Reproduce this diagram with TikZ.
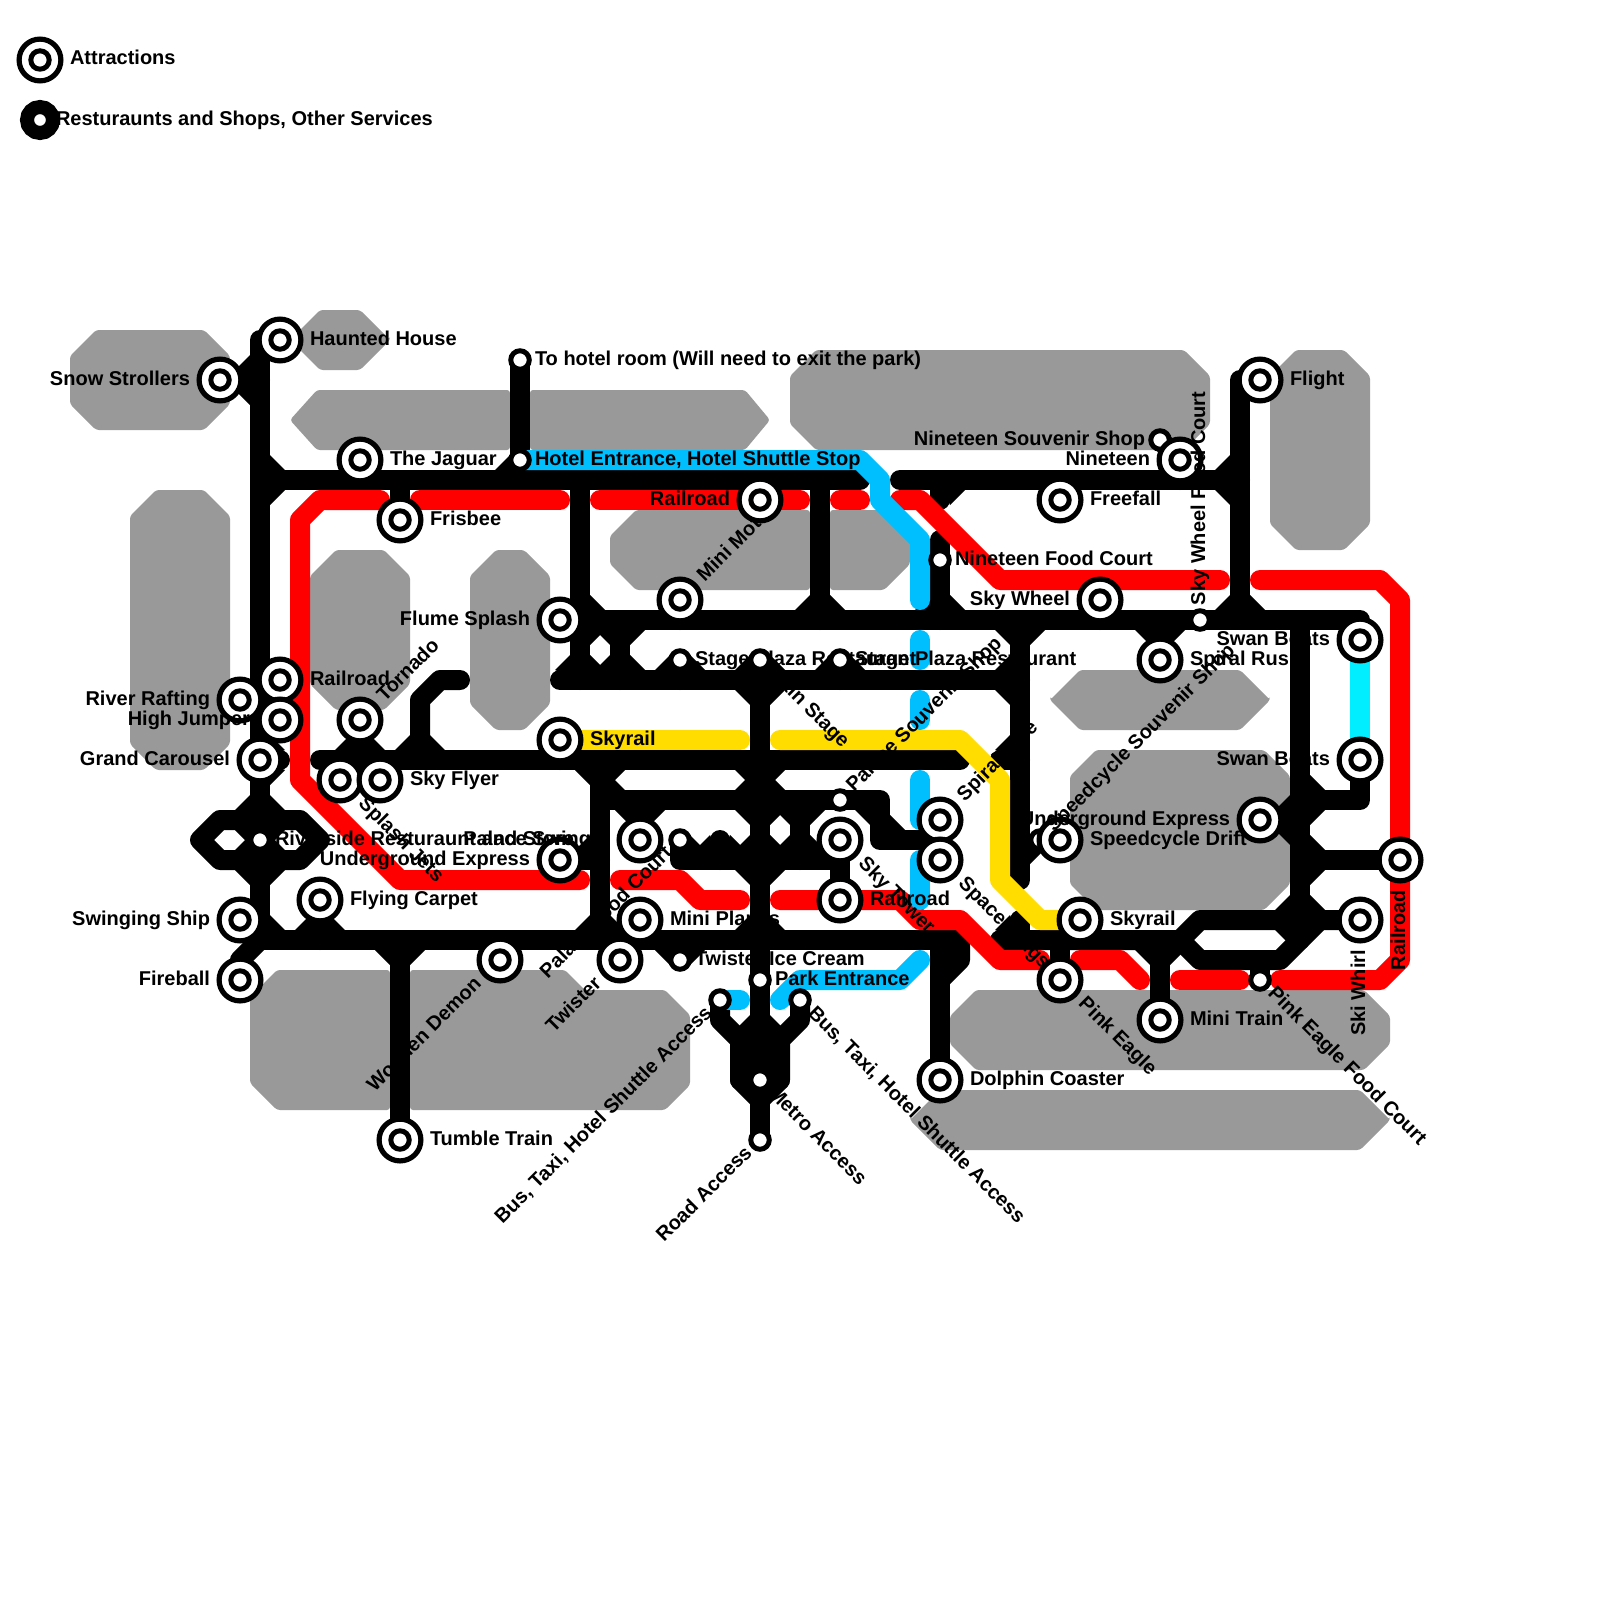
\documentclass[tikz,border=0pt]{standalone}
\usepackage{fontspec}
\setmainfont{Liberation Sans}
\pgfdeclarelayer{blocks}
\pgfdeclarelayer{lines}
\pgfdeclarelayer{colours}
\pgfdeclarelayer{tags}
\pgfsetlayers{blocks,lines,colours,tags,main}
\definecolor{mapgrey}{HTML}{999999}
\definecolor{mapred}{HTML}{FF0000}
\definecolor{mapyellow}{HTML}{FFDD00}
\definecolor{mapblue}{HTML}{00BFFF}
\definecolor{mapcyan}{HTML}{00EEFF}

\begin{document}
\begin{tikzpicture}[
    x=20pt,y=-20pt,
    map ride/.style={circle,draw=black,fill=white,line width=5.2pt,inner sep=0pt,outer sep=0pt,minimum size=41.8pt,
      path picture={\draw[line width=5pt] (path picture bounding box.center) circle (9.2pt);}},
    map stop/.style={circle,draw=black,fill=white,line width=5pt,inner sep=0pt,outer sep=0pt,minimum size=18.5pt},
    map big stop/.style={circle,draw=black,fill=white,line width=14pt,inner sep=0pt,outer sep=0pt,minimum size=26pt},
    map line/.style={line width=20pt,line cap=round,line join=round},
    map tag/.style={font=\fontsize{20}{20}\selectfont\bfseries,inner sep=0pt,outer sep=0pt},
    tag after/.style 2 args={map tag,rotate=#1,anchor=base west,shift={(#2,-5pt)}},
    tag before/.style 2 args={map tag,rotate=#1,anchor=base east,shift={(-#2,-5pt)}}
  ]
    \useasboundingbox (0,0) rectangle (80,80);

    % legend
    \node[map ride] (legendride) at (2,3) {};
    \node[map big stop] (legendstop) at (2,6) {};

    % stops that the rides lie over
    \node[map stop] (speedcyclesouvenir) at (52,42) {};
    \node[map stop] (nineteensouvenir) at (58,22) {};

    % attractions
    \node[map ride] (hauntedhouse) at (14,17) {};
    \node[map ride] (snowstrollers) at (11,19) {};
    \node[map ride] (jaguar) at (18,23) {};
    \node[map ride] (frisbee) at (20,26) {};
    \node[map ride] (railroadw) at (14,34) {};
    \node[map ride] (riverrafting) at (12,35) {};
    \node[map ride] (highjumper) at (14,36) {};
    \node[map ride] (grandcarousel) at (13,38) {};
    \node[map ride] (tornado) at (18,36) {};
    \node[map ride] (flumesplash) at (28,31) {};
    \node[map ride] (skyrailw) at (28,37) {};
    \node[map ride] (splashjets) at (17,39) {};
    \node[map ride] (skyflyer) at (19,39) {};
    \node[map ride] (undergroundw) at (28,43) {};
    \node[map ride] (palaceswinger) at (32,42) {};
    \node[map ride] (flyingcarpet) at (16,45) {};
    \node[map ride] (swingingship) at (12,46) {};
    \node[map ride] (fireball) at (12,49) {};
    \node[map ride] (tumbletrain) at (20,57) {};
    \node[map ride] (woodendemon) at (25,48) {};
    \node[map ride] (twister) at (31,48) {};
    \node[map ride] (miniplanes) at (32,46) {};
    \node[map ride] (railroadn) at (38,25) {};
    \node[map ride] (minimoto) at (34,30) {};
    \node[map ride] (skytower) at (42,42) {};
    \node[map ride] (railroads) at (42,45) {};
    \node[map ride] (spiralride) at (47,41) {};
    \node[map ride] (spacerings) at (47,43) {};
    \node[map ride] (dolphin) at (47,54) {};
    \node[map ride] (nineteen) at (59,23) {};
    \node[map ride] (freefall) at (53,25) {};
    \node[map ride] (skywheel) at (55,30) {};
    \node[map ride] (flight) at (63,19) {};
    \node[map ride] (spiralrush) at (58,33) {};
    \node[map ride] (swanboatsn) at (68,32) {};
    \node[map ride] (swanboatss) at (68,38) {};
    \node[map ride] (undergrounde) at (63,41) {};
    \node[map ride] (railroade) at (70,43) {};
    \node[map ride] (speedcycledrift) at (53,42) {};
    \node[map ride] (skyraile) at (54,46) {};
    \node[map ride] (pinkeagle) at (53,49) {};
    \node[map ride] (minitrain) at (58,51) {};
    \node[map ride] (skiwhirl) at (68,46) {};

    % shops and services
    \node[map stop] (riverside) at (13,42) {};
    \node[map stop] (palacefood) at (34,42) {};
    \node[map stop] (twisterice) at (34,48) {};
    \node[map stop] (hotelroom) at (26,18) {};
    \node[map stop] (hotelentrance) at (26,23) {};
    \node[map stop] (stageplazaw) at (34,33) {};
    \node[map stop] (mainstage) at (38,33) {};
    \node[map stop] (stageplazae) at (42,33) {};
    \node[map stop] (palacesouvenir) at (42,40) {};
    \node[map stop] (parkentrance) at (38,49) {};
    \node[map stop] (bustaxiw) at (36,50) {};
    \node[map stop] (bustaxie) at (40,50) {};
    \node[map stop] (metroaccess) at (38,54) {};
    \node[map stop] (roadaccess) at (38,57) {};
    \node[map stop] (nineteenfood) at (47,28) {};
    \node[map stop] (skywheelfood) at (60,31) {};
    \node[map stop] (pinkeaglefood) at (63,49) {};

    % legend and station names
    \node[tag after={0}{30pt}] (legendridetag) at (legendride) {Attractions};
    \node[tag after={0}{16pt}] (legendstoptag) at (legendstop) {Resturaunts and Shops, Other Services};
    \node[tag after={0}{30pt}] (hauntedhousetag) at (hauntedhouse) {Haunted House};
    \node[tag before={0}{30pt}] (snowstrollerstag) at (snowstrollers) {Snow Strollers};
    \node[tag after={0}{30pt}] (jaguartag) at (jaguar) {The Jaguar};
    \node[tag after={0}{30pt}] (frisbeetag) at (frisbee) {Frisbee};
    \node[tag after={0}{30pt}] (railroadwtag) at (railroadw) {Railroad};
    \node[tag before={0}{30pt}] (riverraftingtag) at (riverrafting) {River Rafting};
    \node[tag before={0}{30pt}] (highjumpertag) at (highjumper) {High Jumper};
    \node[tag before={0}{30pt}] (grandcarouseltag) at (grandcarousel) {Grand Carousel};
    \node[tag after={45}{30pt}] (tornadotag) at (tornado) {Tornado};
    \node[tag before={0}{30pt}] (flumesplashtag) at (flumesplash) {Flume Splash};
    \node[tag after={0}{30pt}] (skyrailwtag) at (skyrailw) {Skyrail};
    \node[tag after={-45}{30pt}] (splashjetstag) at (splashjets) {Splash Jets};
    \node[tag after={0}{30pt}] (skyflyertag) at (skyflyer) {Sky Flyer};
    \node[tag before={0}{30pt}] (undergroundwtag) at (undergroundw) {Underground Express};
    \node[tag before={0}{30pt}] (palaceswingertag) at (palaceswinger) {Palace Swinger};
    \node[tag after={0}{30pt}] (flyingcarpettag) at (flyingcarpet) {Flying Carpet};
    \node[tag before={0}{30pt}] (swingingshiptag) at (swingingship) {Swinging Ship};
    \node[tag before={0}{30pt}] (fireballtag) at (fireball) {Fireball};
    \node[tag after={0}{30pt}] (tumbletraintag) at (tumbletrain) {Tumble Train};
    \node[tag before={45}{30pt}] (woodendemontag) at (woodendemon) {Wooden Demon};
    \node[tag before={45}{30pt}] (twistertag) at (twister) {Twister};
    \node[tag after={0}{30pt}] (miniplanestag) at (miniplanes) {Mini Planes};
    \node[tag before={0}{30pt}] (railroadntag) at (railroadn) {Railroad};
    \node[tag after={-45}{30pt}] (skytowertag) at (skytower) {Sky Tower};
    \node[tag after={0}{30pt}] (railroadstag) at (railroads) {Railroad};
    \node[tag after={45}{30pt}] (spiralridetag) at (spiralride) {Spiral Ride};
    \node[tag after={-45}{30pt}] (spaceringstag) at (spacerings) {Space Rings};
    \node[tag after={0}{30pt}] (dolphintag) at (dolphin) {Dolphin Coaster};
    \node[tag before={0}{30pt}] (nineteentag) at (nineteen) {Nineteen};
    \node[tag after={0}{30pt}] (freefalltag) at (freefall) {Freefall};
    \node[tag before={0}{30pt}] (skywheeltag) at (skywheel) {Sky Wheel};
    \node[tag after={0}{30pt}] (flighttag) at (flight) {Flight};
    \node[tag after={0}{30pt}] (spiralrushtag) at (spiralrush) {Spiral Rush};
    \node[tag before={0}{30pt}] (swanboatsntag) at (swanboatsn) {Swan Boats};
    \node[tag before={0}{30pt}] (swanboatsstag) at (swanboatss) {Swan Boats};
    \node[tag before={0}{30pt}] (undergroundetag) at (undergrounde) {Underground Express};
    \node[tag before={90}{30pt}] (railroadetag) at (railroade) {Railroad};
    \node[tag after={0}{30pt}] (speedcycledrifttag) at (speedcycledrift) {Speedcycle Drift};
    \node[tag after={0}{30pt}] (skyrailetag) at (skyraile) {Skyrail};
    \node[tag after={-45}{30pt}] (pinkeagletag) at (pinkeagle) {Pink Eagle};
    \node[tag after={0}{30pt}] (minitraintag) at (minitrain) {Mini Train};
    \node[tag before={90}{30pt}] (skiwhirltag) at (skiwhirl) {Ski Whirl};
    \node[tag after={45}{15pt}] (speedcyclesouvenirtag) at (speedcyclesouvenir) {Speedcycle Souvenir Shop};
    \node[tag after={0}{15pt}] (riversidetag) at (riverside) {Riverside Resturaunt and Store};
    \node[tag before={45}{15pt}] (palacefoodtag) at (palacefood) {Palace Food Court};
    \node[tag after={0}{15pt}] (twistericetag) at (twisterice) {Twister Ice Cream};
    \node[tag after={0}{15pt}] (hotelroomtag) at (hotelroom) {To hotel room (Will need to exit the park)};
    \node[tag after={0}{15pt}] (hotelentrancetag) at (hotelentrance) {Hotel Entrance, Hotel Shuttle Stop};
    \node[tag after={-45}{15pt}] (mainstagetag) at (mainstage) {Main Stage};
    \node[tag after={45}{15pt}] (palacesouvenirtag) at (palacesouvenir) {Palace Souvenir Shop};
    \node[tag after={0}{15pt}] (parkentrancetag) at (parkentrance) {Park Entrance};
    \node[tag before={45}{15pt}] (bustaxiwtag) at (bustaxiw) {Bus, Taxi, Hotel Shuttle Access};
    \node[tag after={-45}{15pt}] (bustaxietag) at (bustaxie) {Bus, Taxi, Hotel Shuttle Access};
    \node[tag after={-45}{15pt}] (metroaccesstag) at (metroaccess) {Metro Access};
    \node[tag before={45}{15pt}] (roadaccesstag) at (roadaccess) {Road Access};
    \node[tag after={0}{15pt}] (nineteenfoodtag) at (nineteenfood) {Nineteen Food Court};
    \node[tag before={0}{15pt}] (nineteensouvenirtag) at (nineteensouvenir) {Nineteen Souvenir Shop};
    \node[tag after={90}{15pt}] (skywheelfoodtag) at (skywheelfood) {Sky Wheel Food Court};
    \node[tag after={-45}{15pt}] (pinkeaglefoodtag) at (pinkeaglefood) {Pink Eagle Food Court};

    % names that the stations lie over
    \begin{pgfonlayer}{tags}
      \node[tag after={45}{30pt}] (minimototag) at (minimoto) {Mini Moto};
      \node[tag after={0}{15pt}] (stageplazawtag) at (stageplazaw) {Stage Plaza Restaurant};
      \node[tag after={0}{15pt}] (stageplazaetag) at (stageplazae) {Stage Plaza Restaurant};
    \end{pgfonlayer}

    % park blocks
    \begin{pgfonlayer}{blocks}
      \foreach \l/\t/\r/\b/\c in {3.5/16.5/11.5/21.5/1.3,6.5/24.5/11.5/38.5/1.3,15.5/27.5/20.5/35.5/1.3,
          23.5/27.5/27.5/36.5/1.3,39.5/17.5/60.5/22.5/1.3,63.5/17.5/68.5/27.5/1.3,53.5/37.5/64.5/45.5/1.3,
          47.5/49.5/69.5/53.5/1.3,14.5/15.5/19.5/18.5/1.5,52.5/33.5/63.5/36.5/1.5,45.5/54.5/69.5/57.5/1.5}
        \fill[mapgrey,rounded corners=3pt] ({\l+\c},\t) -- ({\r-\c},\t) -- (\r,{\t+\c}) -- (\r,{\b-\c})
          -- ({\r-\c},\b) -- ({\l+\c},\b) -- (\l,{\b-\c}) -- (\l,{\t+\c}) -- cycle;
      \fill[mapgrey,rounded corners=3pt] (15.85,19.5) -- (25.5,19.5) -- (25.5,22.5) -- (15.85,22.5) -- (14.5,21) -- cycle;
      \fill[mapgrey,rounded corners=3pt] (26.5,19.5) -- (37.25,19.5) -- (38.5,21) -- (37.25,22.5) -- (26.5,22.5) -- cycle;
      \fill[mapgrey,rounded corners=3pt] (31.8,25.5) -- (40.5,25.5) -- (40.5,29.5) -- (31.8,29.5) -- (30.5,28.2) -- (30.5,26.8) -- cycle;
      \fill[mapgrey,rounded corners=3pt] (41.5,25.5) -- (44.2,25.5) -- (45.5,26.8) -- (45.5,28.2) -- (44.2,29.5) -- (41.5,29.5) -- cycle;
      \fill[mapgrey,rounded corners=3pt] (13.85,48.5) -- (19.5,48.5) -- (19.5,55.5) -- (13.85,55.5) -- (12.5,54.15) -- (12.5,49.85) -- cycle;
      \fill[mapgrey,rounded corners=3pt] (20.5,48.5) -- (28.25,48.5) -- (29.25,49.5) -- (33.25,49.5) -- (34.5,50.75)
        -- (34.5,54.25) -- (33.25,55.5) -- (20.5,55.5) -- cycle;
    \end{pgfonlayer}

    % junctions and bends
    \foreach \x/\y in {13/17,13/19,13/24,13/38,13/41,13/43,13/46,13/47,43/24,45/24,62/24,18/24,20/24,26/24,29/24,29/34,29/31,
        68/31,31/31,31/34,28/34,51/34,51/31,51/38,51/44,51/46,51/47,34/31,34/34,42/34,38/34,38/38,38/40,38/43,38/47,38/52,
        41/24,41/31,47/24,47/25,47/27,47/31,16/38,48/38,50/38,14/38,18/38,17/38,19/38,28/38,21/38,21/35,22/34,23/34,
        30/38,30/47,30/40,44/40,44/42,47/42,32/40,34/43,42/43,36/43,36/42,40/40,40/43,30/43,
        11/41,10/42,11/43,15/43,16/42,15/41,16/47,20/47,25/47,31/47,32/47,34/47,54/47,53/47,58/47,48/47,50/47,59/47,
        60/46,60/48,64/48,66/46,63/48,12/48,47/47,48/48,47/49,62/19,62/31,65/31,65/46,65/47,68/40,65/40,65/41,65/43,
        58/31,55/31,53/24,59/24,51/43,52/42,36/51,37/52,37/54,38/55,40/51,39/52,39/54,
        19/25,16/25,15/26,15/39,20/44,29/44,21/25,28/25,30/25,40/25,42/25,43/25,45/25,46/25,50/29,61/29,
        63/29,69/29,70/30,70/48,69/49,64/49,59/49,62/49,39/45,45/45,46/46,48/46,50/48,52/48,54/48,56/48,57/49,
        31/44,34/44,35/45,37/45,37/37,39/37,48/37,50/39,50/44,52/46,43/23,44/24,44/25,46/27,46/30,46/32,46/33,
        46/35,46/36,46/39,46/41,46/43,46/45,46/48,45/49,40/49,39/50,37/50}
      \coordinate (j\x-\y) at (\x,\y);

    % black network
    \begin{pgfonlayer}{lines}
      \draw[map line] (hauntedhouse.center) -- (j13-17) -- (j13-47);
      \draw[map line] (snowstrollers.center) -- (j13-19);
      \draw[map line] (j13-24) -- (j43-24);
      \draw[map line] (j45-24) -- (j62-24);
      \draw[map line] (jaguar.center) -- (j18-24);
      \draw[map line] (frisbee.center) -- (j20-24);
      \draw[map line] (hotelroom.center) -- (hotelentrance.center) -- (j26-24);
      \draw[map line] (j29-24) -- (j29-34);
      \draw[map line] (flumesplash.center) -- (j68-31) -- (swanboatsn.center);
      \draw[map line] (j31-31) -- (j31-34);
      \draw[map line] (j28-34) -- (j51-34);
      \draw[map line] (j51-31) -- (j51-44);
      \draw[map line] (j51-46) -- (j51-47);
      \draw[map line] (minimoto.center) -- (j34-31);
      \draw[map line] (stageplazaw.center) -- (j34-34);
      \draw[map line] (stageplazae.center) -- (j42-34);
      \draw[map line] (mainstage.center) -- (roadaccess.center);
      \draw[map line] (j41-24) -- (j41-31);
      \draw[map line] (j47-24) -- (j47-25);
      \draw[map line] (j47-27) -- (j47-31);
      \draw[map line] (j16-38) -- (j48-38);
      \draw[map line] (j50-38) -- (j51-38);
      \draw[map line] (grandcarousel.center) -- (j14-38);
      \draw[map line] (tornado.center) -- (j18-38);
      \draw[map line] (splashjets.center) -- (j17-38);
      \draw[map line] (skyflyer.center) -- (j19-38);
      \draw[map line] (skyrailw.center) -- (j28-38);
      \draw[map line] (j21-38) -- (j21-35) -- (j22-34) -- (j23-34);
      \draw[map line] (j30-38) -- (j30-47);
      \draw[map line] (j30-40) -- (j44-40) -- (j44-42) -- (j47-42);
      \draw[map line] (palaceswinger.center) -- (j32-40);
      \draw[map line] (palacefood.center) -- (j34-43) -- (j42-43);
      \draw[map line] (skytower.center) -- (railroads.center);
      \draw[map line] (j36-43) -- (j36-42);
      \draw[map line] (j40-40) -- (j40-43);
      \draw[map line] (undergroundw.center) -- (j30-43);
      \draw[map line] (j11-41) -- (j10-42) -- (j11-43) -- (j15-43) -- (j16-42) -- (j15-41) -- cycle;
      \draw[map line] (swingingship.center) -- (j13-46);
      \draw[map line] (flyingcarpet.center) -- (j16-47);
      \draw[map line] (tumbletrain.center) -- (j20-47);
      \draw[map line] (woodendemon.center) -- (j25-47);
      \draw[map line] (twister.center) -- (j31-47);
      \draw[map line] (miniplanes.center) -- (j32-47);
      \draw[map line] (twisterice.center) -- (j34-47);
      \draw[map line] (skyraile.center) -- (j54-47);
      \draw[map line] (pinkeagle.center) -- (j53-47);
      \draw[map line] (minitrain.center) -- (j58-47);
      \draw[map line] (j13-47) -- (j48-47);
      \draw[map line] (j50-47) -- (j59-47) -- (j60-46) -- (skiwhirl.center);
      \draw[map line] (j59-47) -- (j60-48) -- (j64-48) -- (j66-46);
      \draw[map line] (pinkeaglefood.center) -- (j63-48);
      \draw[map line] (fireball.center) -- (j12-48) -- (j13-47);
      \draw[map line] (j47-47) -- (dolphin.center);
      \draw[map line] (j48-47) -- (j48-48) -- (j47-49);
      \draw[map line] (flight.center) -- (j62-19) -- (j62-31);
      \draw[map line] (j65-31) -- (j65-47);
      \draw[map line] (swanboatss.center) -- (j68-40) -- (j65-40);
      \draw[map line] (undergrounde.center) -- (j65-41);
      \draw[map line] (railroade.center) -- (j65-43);
      \draw[map line] (spiralrush.center) -- (j58-31);
      \draw[map line] (skywheel.center) -- (j55-31);
      \draw[map line] (freefall.center) -- (j53-24);
      \draw[map line] (nineteen.center) -- (j59-24);
      \draw[map line] (nineteensouvenir.center) -- (nineteen.center);
      \draw[map line] (j51-43) -- (j52-42) -- (speedcycledrift.center);
      \draw[map line] (bustaxiw.center) -- (j36-51) -- (j37-52) -- (j37-54) -- (j38-55);
      \draw[map line] (bustaxie.center) -- (j40-51) -- (j39-52) -- (j39-54) -- (j38-55);
      \draw[map line,fill] (j37-52) -- (j39-52) -- (j39-54) -- (j37-54) -- cycle;
      % corners at the junctions
      \foreach \r/\corners in {
          0/{j13-24,j29-31,j29-34,j31-34,j34-34,j38-34,j42-34,j41-31,j47-31,j62-31,j13-38,j18-38,j21-38,j30-40,j38-40,
             j38-43,j34-43,j36-43,j40-43,j44-42,j38-47,j30-47,j16-47,j13-47,j13-41,j13-43,j65-40,j65-43,j65-46,j38-52},
          90/{j13-19,j26-24,j29-34,j31-34,j34-34,j38-34,j42-34,j41-31,j47-31,j51-34,j51-38,j62-24,j62-31,j18-38,j21-38,
             j38-40,j38-43,j36-43,j40-43,j38-47,j30-47,j16-47,j13-41,j13-43,j30-43,j51-47,j65-41,j65-46,j38-52},
          180/{j13-19,j31-31,j38-34,j51-31,j51-34,j58-31,j62-24,j30-38,j38-38,j38-40,j38-43,j40-40,j32-40,j44-40,j34-47,
             j20-47,j13-41,j13-43,j58-47,j65-41,j65-46},
          270/{j13-24,j29-31,j31-31,j47-24,j51-31,j58-31,j13-38,j30-38,j38-34,j38-38,j38-40,j38-43,j40-40,j32-40,j34-47,
             j20-47,j13-41,j13-43,j58-47,j65-40,j65-43}}
        \foreach \j in \corners
          \fill[shift={(\j)},rotate=\r] (0,0) -- (.5,-1.25) -- (1.25,-.5) -- cycle;
    \end{pgfonlayer}

    % coloured lines
    \begin{pgfonlayer}{colours}
      \draw[map line,mapred] (j19-25) -- (j16-25) -- (j15-26) -- (j15-39) -- (j20-44) -- (j29-44);
      \draw[map line,mapred] (j21-25) -- (j28-25);
      \draw[map line,mapred] (j30-25) -- (j40-25);
      \draw[map line,mapred] (j42-25) -- (j43-25);
      \draw[map line,mapred] (j45-25) -- (j46-25) -- (j50-29) -- (j61-29);
      \draw[map line,mapred] (j63-29) -- (j69-29) -- (j70-30) -- (j70-48) -- (j69-49) -- (j64-49);
      \draw[map line,mapred] (j59-49) -- (j62-49);
      \draw[map line,mapred] (j39-45) -- (j45-45) -- (j46-46) -- (j48-46) -- (j50-48) -- (j52-48);
      \draw[map line,mapred] (j54-48) -- (j56-48) -- (j57-49);
      \draw[map line,mapred] (j31-44) -- (j34-44) -- (j35-45) -- (j37-45);
      \draw[map line,mapyellow] (skyrailw.center) -- (j37-37);
      \draw[map line,mapyellow] (j39-37) -- (j48-37) -- (j50-39) -- (j50-44) -- (j52-46) -- (skyraile.center);
      \draw[map line,mapblue] (hotelentrance.center) -- (j43-23) -- (j44-24) -- (j44-25) -- (j46-27) -- (j46-30);
      \draw[map line,mapblue] (j46-32) -- (j46-33);
      \draw[map line,mapblue] (j46-35) -- (j46-36);
      \draw[map line,mapblue] (j46-39) -- (j46-41);
      \draw[map line,mapblue] (j46-43) -- (j46-45);
      \draw[map line,mapblue] (j46-48) -- (j45-49) -- (j40-49) -- (j39-50);
      \draw[map line,mapblue] (bustaxiw.center) -- (j37-50);
      \draw[map line,mapcyan] (swanboatsn.center) -- (swanboatss.center);
    \end{pgfonlayer}
  \end{tikzpicture}
\end{document}
